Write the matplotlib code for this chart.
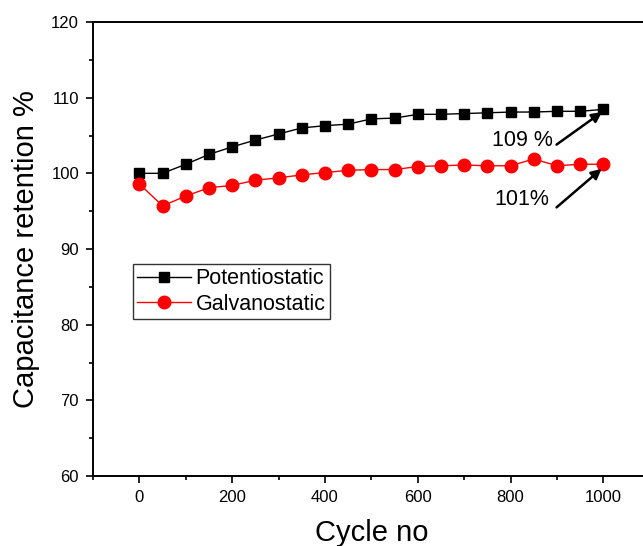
# Capacitance retention vs cycle number
import matplotlib.pyplot as plt
from matplotlib.ticker import MultipleLocator

plt.rcParams['font.family'] = ['Liberation Sans', 'DejaVu Sans']

# Data
cycles = [0, 50, 100, 150, 200, 250, 300, 350, 400, 450, 500,
          550, 600, 650, 700, 750, 800, 850, 900, 950, 1000]
potentiostatic = [100.0, 100.0, 101.2, 102.5, 103.5, 104.4, 105.2, 106.0, 106.3, 106.5, 107.2,
                  107.3, 107.8, 107.8, 107.9, 108.0, 108.1, 108.1, 108.2, 108.2, 108.45]
galvanostatic = [98.6, 95.7, 97.0, 98.1, 98.4, 99.1, 99.4, 99.8, 100.1, 100.4, 100.5,
                 100.5, 100.9, 101.0, 101.1, 101.0, 101.0, 101.9, 101.0, 101.2, 101.2]

fig = plt.figure(figsize=(6.43, 5.46), dpi=100)
ax = fig.add_axes([0.1446, 0.1282, 0.866, 0.8315])

ax.plot(cycles, potentiostatic, color='black', lw=1, marker='s', ms=7.5,
        label='Potentiostatic')
ax.plot(cycles, galvanostatic, color='red', lw=1, marker='o', ms=9,
        label='Galvanostatic')

ax.set_xlim(-100, 1100)
ax.set_ylim(60, 120)
ax.xaxis.set_major_locator(MultipleLocator(200))
ax.xaxis.set_minor_locator(MultipleLocator(100))
ax.yaxis.set_major_locator(MultipleLocator(10))
ax.yaxis.set_minor_locator(MultipleLocator(5))
ax.tick_params(which='both', direction='out', width=1.2, top=False, right=False,
               labelsize=12, pad=5)
ax.tick_params(which='major', length=5)
ax.tick_params(which='minor', length=3)
for s in ax.spines.values():
    s.set_linewidth(1.4)

ax.set_xlabel('Cycle no', fontsize=21, labelpad=10)
ax.set_ylabel('Capacitance retention %', fontsize=21, labelpad=8)

# Annotations: text and arrow drawn separately
ax.text(825, 104.3, '109 %', fontsize=15.5, ha='center', va='center')
ax.annotate('', xy=(997, 108.1), xytext=(899, 103.8),
            arrowprops=dict(arrowstyle='-|>', color='black', lw=1.8,
                            mutation_scale=15, shrinkA=0, shrinkB=0))
ax.text(825, 96.5, '101%', fontsize=15.5, ha='center', va='center')
ax.annotate('', xy=(996, 100.6), xytext=(899, 95.5),
            arrowprops=dict(arrowstyle='-|>', color='black', lw=1.8,
                            mutation_scale=15, shrinkA=0, shrinkB=0))

leg = ax.legend(loc='upper left', bbox_to_anchor=(133 / 643, 1 - 264 / 546),
                bbox_transform=fig.transFigure, fontsize=15.5, frameon=True,
                fancybox=False, edgecolor='black', borderpad=0.2,
                handlelength=2.5, handletextpad=0.2, labelspacing=0.2,
                borderaxespad=0)
leg.get_frame().set_linewidth(1.0)

fig.savefig('out.png', dpi=100)
